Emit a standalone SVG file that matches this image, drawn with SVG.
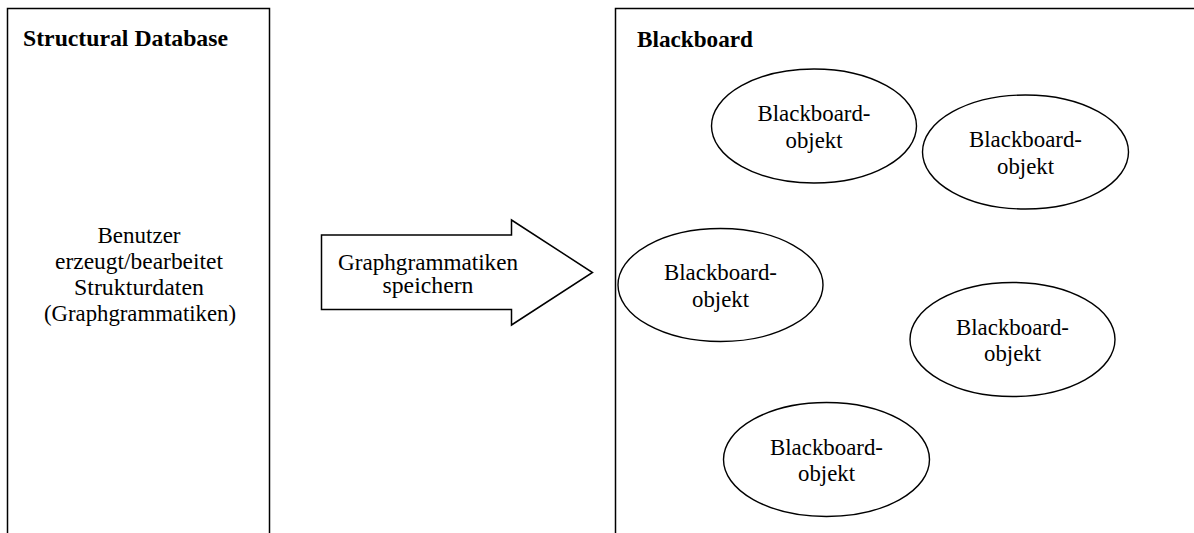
<svg xmlns="http://www.w3.org/2000/svg" width="1194" height="533" viewBox="0 0 1194 533" font-family="Liberation Serif, Times New Roman, DejaVu Serif, serif">
<style>
.box{fill:#fff;stroke:#000;stroke-width:1.5}
.ell{fill:#fff;stroke:#000;stroke-width:1.4}
text{font-family:"Liberation Serif","Times New Roman","DejaVu Serif",serif;font-size:23px;fill:#000}
.c{text-anchor:middle}
.b{font-weight:bold}
</style>
<rect width="1194" height="533" fill="#fff"/>
<g id="structural-database">
<rect class="box" x="7.5" y="8.5" width="262" height="540"/>
<text class="b" x="23" y="46" textLength="205" lengthAdjust="spacingAndGlyphs">Structural Database</text>
<text class="c" x="139" y="243" textLength="83" lengthAdjust="spacingAndGlyphs">Benutzer</text>
<text class="c" x="139" y="269" textLength="168" lengthAdjust="spacingAndGlyphs">erzeugt/bearbeitet</text>
<text class="c" x="139" y="295" textLength="130" lengthAdjust="spacingAndGlyphs">Strukturdaten</text>
<text class="c" x="140" y="321" textLength="192" lengthAdjust="spacingAndGlyphs">(Graphgrammatiken)</text>
</g>
<g id="blackboard">
<rect class="box" x="615.5" y="8.5" width="600" height="540"/>
<text class="b" x="637" y="46.5" textLength="116" lengthAdjust="spacingAndGlyphs">Blackboard</text>
</g>
<g id="connectors">
<g id="arrow-speichern">
<polygon class="box" points="321.5,235 511.5,235 511.5,220 592.5,272.5 511.5,325 511.5,309.5 321.5,309.5"/>
<text class="c" x="428" y="270" textLength="180" lengthAdjust="spacingAndGlyphs">Graphgrammatiken</text>
<text class="c" x="428" y="293" textLength="91" lengthAdjust="spacingAndGlyphs">speichern</text>
</g>
</g>
<g id="obj1">
<ellipse class="ell" cx="814" cy="126" rx="102.5" ry="57"/>
<text class="c" x="814" y="121" textLength="113" lengthAdjust="spacingAndGlyphs">Blackboard-</text>
<text class="c" x="814" y="147.5" textLength="57" lengthAdjust="spacingAndGlyphs">objekt</text>
</g>
<g id="obj2">
<ellipse class="ell" cx="1025.5" cy="152" rx="103" ry="57"/>
<text class="c" x="1025.5" y="147" textLength="113" lengthAdjust="spacingAndGlyphs">Blackboard-</text>
<text class="c" x="1025.5" y="173.5" textLength="57" lengthAdjust="spacingAndGlyphs">objekt</text>
</g>
<g id="obj3">
<ellipse class="ell" cx="720.5" cy="285" rx="102.5" ry="56.5"/>
<text class="c" x="720.5" y="280" textLength="113" lengthAdjust="spacingAndGlyphs">Blackboard-</text>
<text class="c" x="720.5" y="306.5" textLength="57" lengthAdjust="spacingAndGlyphs">objekt</text>
</g>
<g id="obj4">
<ellipse class="ell" cx="1012.5" cy="339.5" rx="102.5" ry="57"/>
<text class="c" x="1012.5" y="334.5" textLength="113" lengthAdjust="spacingAndGlyphs">Blackboard-</text>
<text class="c" x="1012.5" y="361" textLength="57" lengthAdjust="spacingAndGlyphs">objekt</text>
</g>
<g id="obj5">
<ellipse class="ell" cx="826.5" cy="459.5" rx="103" ry="57"/>
<text class="c" x="826.5" y="454.5" textLength="113" lengthAdjust="spacingAndGlyphs">Blackboard-</text>
<text class="c" x="826.5" y="481" textLength="57" lengthAdjust="spacingAndGlyphs">objekt</text>
</g>
</svg>
